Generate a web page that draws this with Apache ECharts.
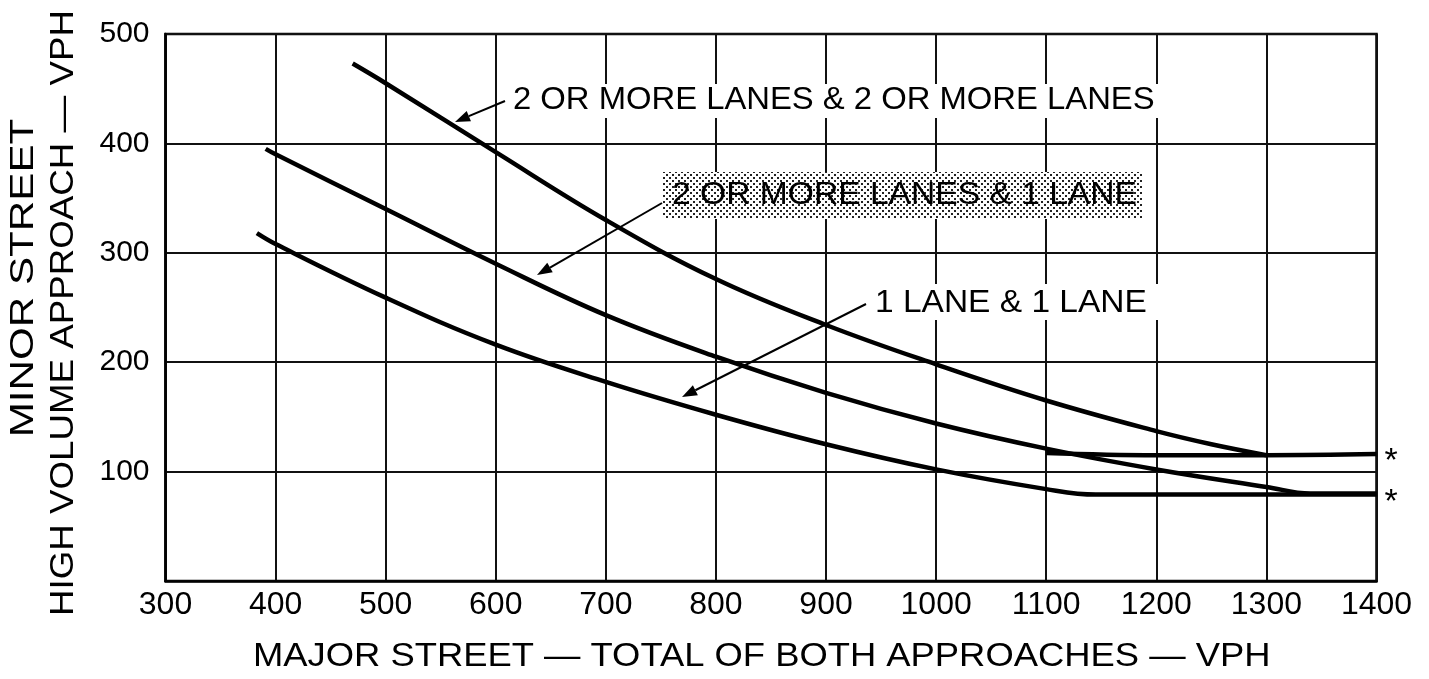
<!DOCTYPE html>
<html><head><meta charset="utf-8">
<script src="https://cdn.jsdelivr.net/npm/echarts@6/dist/echarts.min.js"></script>
<style>html,body{margin:0;padding:0;background:#fff}#c{width:1429px;height:679px}</style>
</head><body><div id="c"></div>
<script>
// ---- data ----
const xMin = 300, xMax = 1400, xStep = 100;
const yMin = 0, yMax = 500, yStep = 100;
const yTickLabels = ['', '100', '200', '300', '400', '500'];

const lanes2and2 = [[470,473],[500,455],[600,392],[700,330],[800,276],[900,234],[1000,198],[1100,165],[1200,137],[1250,125],[1300,115]];
const lanes2and1 = [[391,395],[400,390],[500,340],[600,290],[700,243],[800,205],[900,172],[1000,144],[1100,121],[1200,102],[1300,86],[1340,80],[1400,80]];
const lanes1and1 = [[383,318],[400,308],[500,259],[600,216],[700,182],[800,152],[900,125],[1000,102],[1100,84],[1145,79],[1250,79],[1400,79]];
const threshold115 = [[1100,117],[1200,115],[1300,115],[1400,116]];

const curveLabels = ['2 OR MORE LANES & 2 OR MORE LANES', '2 OR MORE LANES & 1 LANE', '1 LANE & 1 LANE'];
const xTitle = 'MAJOR STREET — TOTAL OF BOTH APPROACHES — VPH';
const yTitle = ['MINOR STREET', 'HIGH VOLUME APPROACH — VPH'];
const noteMark = '*';

// ---- rendering ----
const FONT = '"Liberation Sans", Arial, Helvetica, sans-serif';
const chart = echarts.init(document.getElementById('c'));

const pc = document.createElement('canvas'); pc.width = 6; pc.height = 6;
const g = pc.getContext('2d');
g.fillStyle = '#fff'; g.fillRect(0,0,6,6);
g.fillStyle = '#222'; g.fillRect(0,0,2,2); g.fillRect(3,3,2,2);

function arrow(x1,y1,x2,y2){
  const a = Math.atan2(y2-y1, x2-x1), L = 15, W = 5.5;
  const bx = x2 - L*Math.cos(a), by = y2 - L*Math.sin(a);
  const px = -Math.sin(a)*W, py = Math.cos(a)*W;
  return [
    {type:'line', z:100, shape:{x1:x1,y1:y1,x2:bx,y2:by}, style:{stroke:'#000', lineWidth:2}},
    {type:'polygon', z:100, shape:{points:[[x2,y2],[bx+px,by+py],[bx-px,by-py]]}, style:{fill:'#000'}}
  ];
}
function txt(text, x, y, size, sx, align, rot){
  return {type:'text', z:101, x:x, y:y, scaleX:sx||1, rotation:rot||0,
    style:{text:text, x:0, y:0, fontSize:size, fontFamily:FONT, fill:'#000',
      align:align||'left', textAlign:align||'left', verticalAlign:'middle', textVerticalAlign:'middle'}};
}

const lineStyle = {color:'#000', width:4.5};
function curve(name, data){
  return {name:name, type:'line', data:data, smooth:0.4, symbol:'none',
    lineStyle:lineStyle, silent:true, z:5};
}

const graphics = [].concat(
  [{type:'rect', z:99, shape:{x:505,y:84,width:660,height:34}, style:{fill:'#fff'}},
   {type:'rect', z:99, shape:{x:869,y:284,width:290,height:36}, style:{fill:'#fff'}},
   {type:'rect', z:99, shape:{x:663,y:172,width:479,height:47}, style:{fill:{image:pc, repeat:'repeat'}}}],
  arrow(505,101,455,122),
  arrow(662,203,537,275),
  arrow(866,304,682,397),
  [txt(curveLabels[0], 513, 100, 32, 1.025),
   txt(curveLabels[1], 672, 195, 32, 1.05),
   txt(curveLabels[2], 875, 303, 32, 1.047),
   txt(xTitle, 253, 657, 34, 1.07),
   txt(yTitle[0], 24, 278, 34, 1.24, 'center', Math.PI/2),
   txt(yTitle[1], 63.5, 313, 34, 1.08, 'center', Math.PI/2),
   txt(noteMark, 1391, 462, 34, 1, 'center'),
   txt(noteMark, 1391, 503, 34, 1, 'center')]
);

chart.setOption({
  animation:false,
  backgroundColor:'#fff',
  grid:{left:165.5, right:52.5, top:34, bottom:98, show:true, borderColor:'#000', borderWidth:2.5, backgroundColor:'transparent'},
  xAxis:{type:'value', min:xMin, max:xMax, interval:xStep,
    axisLine:{show:true, lineStyle:{color:'#000', width:2.5}}, axisTick:{show:false},
    axisLabel:{color:'#000', fontSize:32, fontFamily:FONT, margin:8, showMinLabel:true, showMaxLabel:true,
      formatter:function(v){ return String(v); }},
    splitLine:{show:true, lineStyle:{color:'#111', width:2}}},
  yAxis:{type:'value', min:yMin, max:yMax, interval:yStep,
    axisLine:{show:true, lineStyle:{color:'#000', width:2.5}}, axisTick:{show:false},
    axisLabel:{color:'#000', fontSize:30, fontFamily:FONT, margin:16,
      formatter:function(v){ return yTickLabels[Math.round((v - yMin)/yStep)] || ''; }},
    splitLine:{show:true, lineStyle:{color:'#111', width:2}}},
  series:[
    curve(curveLabels[0], lanes2and2),
    curve(curveLabels[1], lanes2and1),
    curve(curveLabels[2], lanes1and1),
    curve('threshold', threshold115)
  ],
  graphic:graphics
});
</script></body></html>
